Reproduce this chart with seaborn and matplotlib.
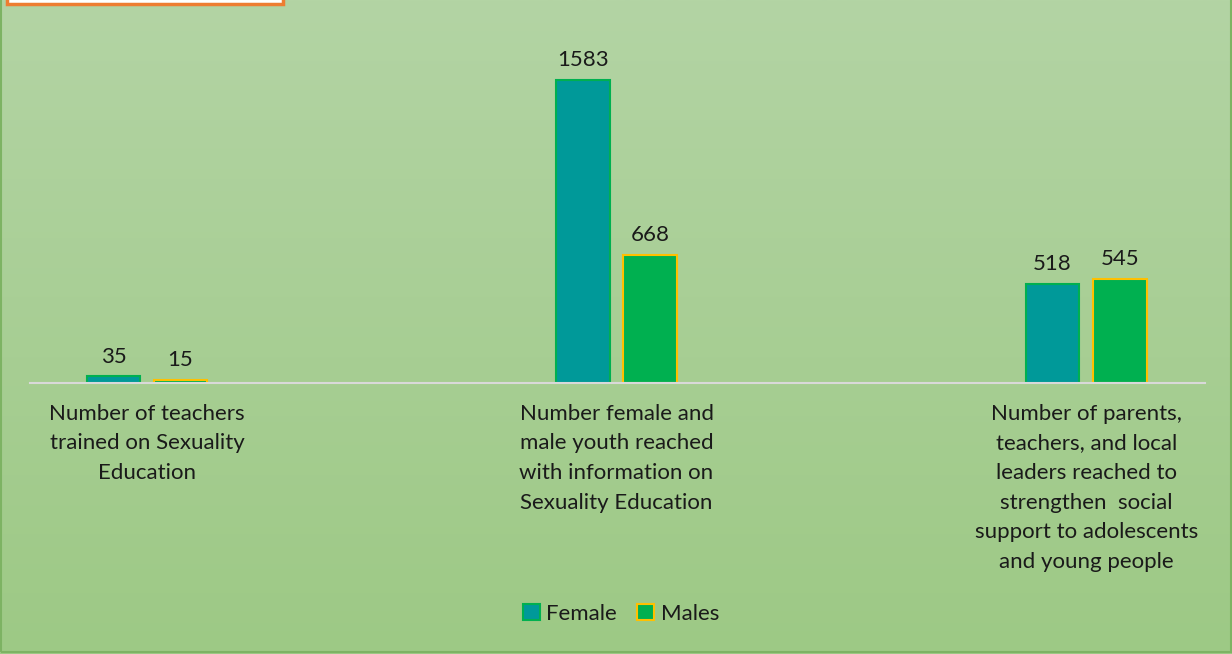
import numpy as np
import pandas as pd
import matplotlib
matplotlib.use("Agg")
import matplotlib.pyplot as plt
from matplotlib.patches import Rectangle, Patch
from matplotlib.colors import LinearSegmentedColormap
import seaborn as sns

categories = [
    "Number of teachers\ntrained on Sexuality\nEducation",
    "Number female and\nmale youth reached\nwith information on\nSexuality Education",
    "Number of parents,\nteachers, and local\nleaders reached to\nstrengthen  social\nsupport to adolescents\nand young people",
]
female = [35, 1583, 518]
males = [15, 668, 545]
series = ["Female", "Males"]

fill_colors = {"Female": "#009999", "Males": "#00B050"}
edge_colors = {"Female": "#00B050", "Males": "#FFC000"}

df = pd.DataFrame({
    "category": categories * 2,
    "series": ["Female"] * 3 + ["Males"] * 3,
    "value": female + males,
})

sns.set_theme(style="white")
plt.rcParams["font.family"] = ["Lato", "DejaVu Sans"]

W, H = 1232, 654
fig = plt.figure(figsize=(W / 100, H / 100), dpi=100)

# background gradient
bg = fig.add_axes([0, 0, 1, 1], zorder=-10)
grad = np.linspace(0, 1, 256).reshape(-1, 1)
cmap = LinearSegmentedColormap.from_list("bg", ["#B3D4A4", "#9DC985"])
bg.imshow(grad, aspect="auto", cmap=cmap, extent=[0, 1, 0, 1], origin="upper")
bg.set_xlim(0, 1); bg.set_ylim(0, 1)
bg.axis("off")
bg.add_patch(Rectangle((1 / W, 2 / H), 1 - 2 / W, 1.2, fill=False, edgecolor="#7DB363", lw=1.5))
bg.add_patch(Rectangle((7 / W, 1 - 4 / H), 276 / W, 0.1, facecolor="white", edgecolor="#ED7D31", lw=2.5))

ax = fig.add_axes([30 / W, 1 - 383 / H, 1175 / W, 344.5 / H])
ax.patch.set_alpha(0)

sns.barplot(data=df, x="category", y="value", hue="series", hue_order=series,
            palette=fill_colors, width=0.2857, gap=0.2, ax=ax, legend=False,
            linewidth=1.5, saturation=1)

for cont, s in zip(ax.containers, series):
    for p in cont:
        p.set_edgecolor(edge_colors[s])
        p.set_linewidth(1.5)
    ax.bar_label(cont, labels=[str(int(v)) for v in cont.datavalues],
                 padding=7, fontsize=16, color="#1a1a1a")

ax.set_xlim(-0.249, 2.253)
ax.set_ylim(0, 1800)
ax.set_xlabel("")
ax.set_ylabel("")
ax.set_yticks([])
for sp in ["top", "left", "right"]:
    ax.spines[sp].set_visible(False)
ax.spines["bottom"].set_color("#D9D9D9")
ax.spines["bottom"].set_linewidth(1.5)
ax.tick_params(axis="x", length=0, pad=15, labelsize=16, labelcolor="#1a1a1a")
for t in ax.get_xticklabels():
    t.set_linespacing(1.6)

handles = [Patch(facecolor=fill_colors[s], edgecolor=edge_colors[s], lw=1.5, label=s) for s in series]
fig.legend(handles=handles, loc="center", bbox_to_anchor=(621 / W, 1 - 614 / H), ncol=2,
           frameon=False, fontsize=16, handlelength=0.75, handleheight=0.75,
           handletextpad=0.3, columnspacing=0.9, labelcolor="#1a1a1a")

fig.savefig("out.png", dpi=100)
